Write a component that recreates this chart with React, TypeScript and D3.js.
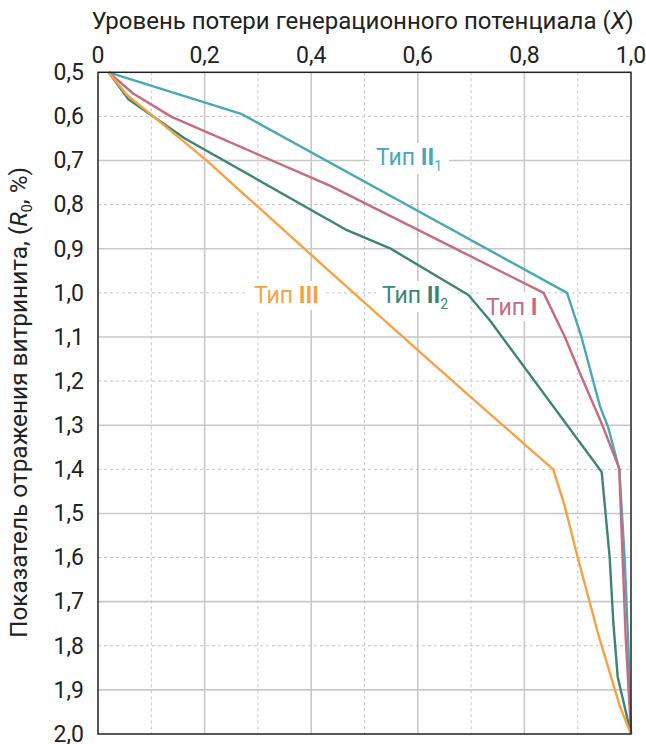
import React from "react";
import * as d3 from "d3";

const xTicks = [0, 0.2, 0.4, 0.6, 0.8, 1.0];
const yTicks = [0.5, 0.6, 0.7, 0.8, 0.9, 1.0, 1.1, 1.2, 1.3, 1.4, 1.5, 1.6, 1.7, 1.8, 1.9, 2.0];
const xGrid = [0.1, 0.2, 0.3, 0.4, 0.5, 0.6, 0.7, 0.8, 0.9];
const yGrid = [0.6, 0.7, 0.8, 0.9, 1.0, 1.1, 1.2, 1.3, 1.4, 1.5, 1.6, 1.7, 1.8, 1.9];

const typeII1X = [0.02, 0.27, 0.88, 0.907, 0.942, 0.957, 0.978, 0.988, 0.995, 1.0];
const typeII1R = [0.5, 0.595, 1.0, 1.1, 1.258, 1.304, 1.4, 1.6, 1.8, 2.0];

const typeIX = [0.02, 0.066, 0.138, 0.435, 0.836, 0.876, 0.907, 0.945, 0.978, 0.982, 0.99, 1.0];
const typeIR = [0.5, 0.548, 0.601, 0.757, 1.0, 1.1, 1.19, 1.296, 1.398, 1.53, 1.78, 2.0];

const typeII2X = [0.02, 0.057, 0.163, 0.467, 0.548, 0.695, 0.735, 0.945, 0.96, 0.967, 0.975, 1.0];
const typeII2R = [0.5, 0.561, 0.65, 0.858, 0.899, 1.005, 1.062, 1.406, 1.6, 1.75, 1.87, 2.0];

const typeIIIX = [0.02, 0.054, 0.101, 0.203, 0.435, 0.6, 0.7, 0.854, 0.875, 0.9, 0.94, 0.98, 1.0];
const typeIIIR = [0.5, 0.551, 0.597, 0.699, 0.952, 1.13, 1.237, 1.4, 1.48, 1.6, 1.78, 1.94, 2.0];

const series = [
  { name: "II1", xs: typeII1X, rs: typeII1R, color: "#49a8b6" },
  { name: "I", xs: typeIX, rs: typeIR, color: "#c56b80" },
  { name: "II2", xs: typeII2X, rs: typeII2R, color: "#3e8474" },
  { name: "III", xs: typeIIIX, rs: typeIIIR, color: "#f7a145" },
];

const FONT = "Roboto, 'Liberation Sans', Arial, sans-serif";
const fmt = (v: number) => v.toFixed(1).replace(".", ",");
const fmtX = (v: number) => (v === 0 ? "0" : v.toFixed(1).replace(".", ","));

export default function App() {
  const x = d3.scaleLinear().domain([0, 1]).range([98, 631]);
  const y = d3.scaleLinear().domain([0.5, 2.0]).range([72.3, 734]);
  const line = d3
    .line<[number, number]>()
    .x((d) => x(d[0]))
    .y((d) => y(d[1]));

  const isMajorX = (v: number) => Math.round(v * 10) % 2 === 0;
  const isMajorY = (v: number) => Math.round(v * 10) % 2 === 1;

  const labels = [
    { main: "Тип ", bold: "II", sub: "1", color: "#49a8b6", x: 376, y: 165, bg: [369, 143, 80, 31] },
    { main: "Тип ", bold: "II", sub: "2", color: "#3e8474", x: 382, y: 303, bg: [376, 281, 80, 31] },
    { main: "Тип ", bold: "I", sub: "", color: "#c56b80", x: 486, y: 315, bg: [480, 292, 64, 29] },
    { main: "Тип ", bold: "III", sub: "", color: "#f7a145", x: 254, y: 303, bg: [248, 281, 78, 29] },
  ];

  return (
    <svg
      width={646}
      height={744}
      style={{ position: "absolute", left: 0, top: 0, background: "#fff" }}
      fontFamily={FONT}
    >
      <rect x={0} y={0} width={646} height={744} fill="#fff" />
      {/* grid */}
      {xGrid.map((v) => (
        <line
          key={"gx" + v}
          x1={x(v)}
          x2={x(v)}
          y1={y(0.5)}
          y2={y(2.0)}
          stroke={isMajorX(v) ? "#c8c8c8" : "#c4c4c4"}
          strokeWidth={isMajorX(v) ? 1.6 : 1}
          strokeDasharray={isMajorX(v) ? undefined : "3,3"}
        />
      ))}
      {yGrid.map((v) => (
        <line
          key={"gy" + v}
          x1={x(0)}
          x2={x(1)}
          y1={y(v)}
          y2={y(v)}
          stroke={isMajorY(v) ? "#c8c8c8" : "#c4c4c4"}
          strokeWidth={isMajorY(v) ? 1.6 : 1}
          strokeDasharray={isMajorY(v) ? undefined : "3,3"}
        />
      ))}
      {/* label backgrounds */}
      {labels.map((l, i) => (
        <rect key={"bg" + i} x={l.bg[0]} y={l.bg[1]} width={l.bg[2]} height={l.bg[3]} fill="#fff" />
      ))}
      {/* lines */}
      {series.map((s) => (
        <path
          key={s.name}
          d={line(s.xs.map((v, i) => [v, s.rs[i]] as [number, number])) || ""}
          fill="none"
          stroke={s.color}
          strokeWidth={2.4}
          strokeLinejoin="round"
        />
      ))}
      {/* frame */}
      <rect
        x={x(0)}
        y={y(0.5)}
        width={x(1) - x(0)}
        height={y(2.0) - y(0.5)}
        fill="none"
        stroke="#222"
        strokeWidth={1.5}
      />
      {/* labels */}
      {labels.map((l, i) => (
        <text key={"lb" + i} x={l.x} y={l.y} fill={l.color} fontSize={23}>
          {l.main}
          <tspan fontWeight="bold">{l.bold}</tspan>
          {l.sub ? (
            <tspan fontSize={14} dy={6}>
              {l.sub}
            </tspan>
          ) : null}
        </text>
      ))}
      {/* x ticks */}
      {xTicks.map((v) => (
        <text key={"xt" + v} x={x(v)} y={63} textAnchor="middle" fontSize={23} fill="#222">
          {fmtX(v)}
        </text>
      ))}
      {/* y ticks */}
      {yTicks.map((v) => (
        <text key={"yt" + v} x={84} y={y(v)} dy="0.34em" textAnchor="end" fontSize={23} fill="#222">
          {fmt(v)}
        </text>
      ))}
      {/* title */}
      <text x={362.5} y={29} fontSize={24} fill="#222" textAnchor="middle">
        Уровень потери генерационного потенциала (<tspan fontStyle="italic">X</tspan>)
      </text>
      {/* y label */}
      <text
        transform="translate(27,638) rotate(-90)"
        x={0}
        y={0}
        fontSize={24}
        fill="#222"
        textLength={471}
        lengthAdjust="spacingAndGlyphs"
      >
        Показатель отражения витринита, (<tspan fontStyle="italic">R</tspan>
        <tspan fontSize={14} dy={5}>0</tspan>
        <tspan dy={-5}>, %)</tspan>
      </text>
    </svg>
  );
}
